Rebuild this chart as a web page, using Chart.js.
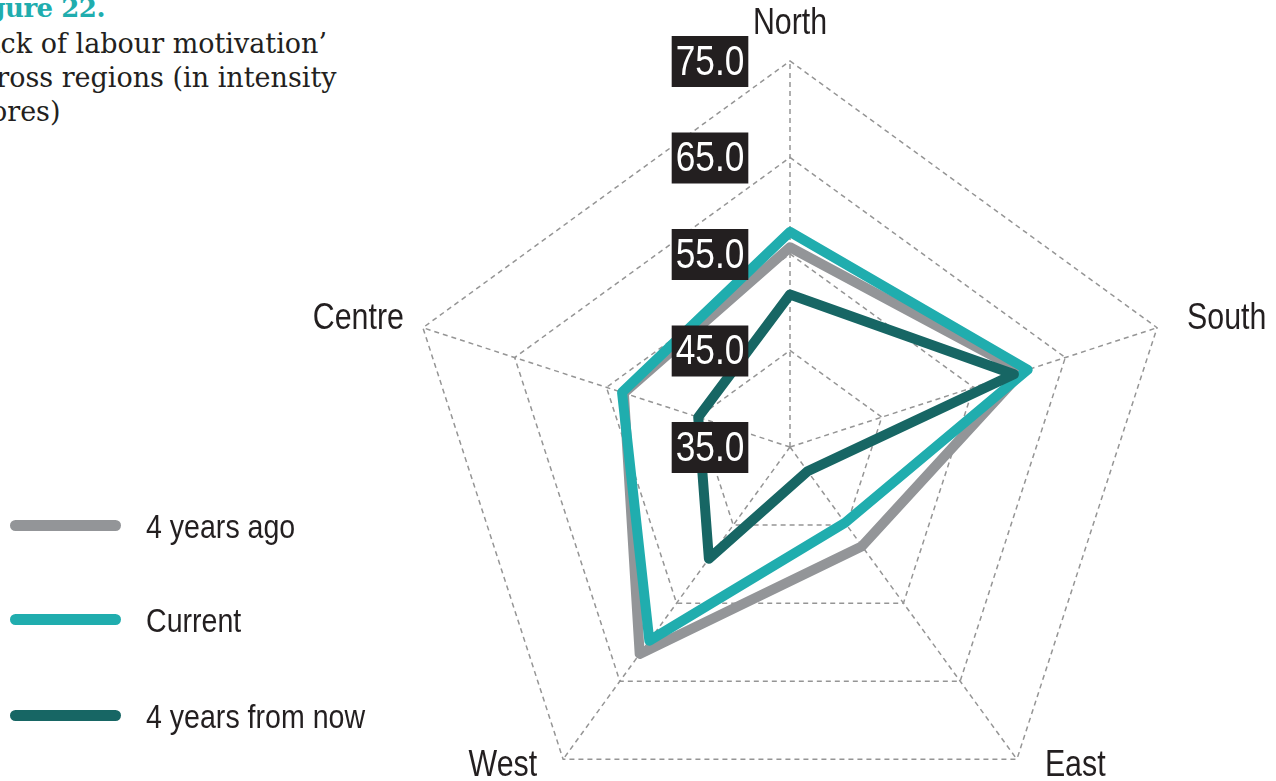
<html>

<head>
  <title>Lack of labour motivation across regions</title>
  <script src="https://cdn.jsdelivr.net/npm/chart.js@4.4.0/dist/chart.umd.min.js"></script>
  <style>
    body { margin: 0; width: 1276px; height: 781px; overflow: hidden; background: #fff; position: relative; }
    .head { position: absolute; white-space: nowrap; font-family: 'DejaVu Serif'; color: #231f20; }
    .head.fig { color: #20adae; font-weight: bold; font-size: 26px; line-height: 30px; top: -7px; left: -40px; letter-spacing: -0.5px; }
    .head.sub { font-size: 27px; line-height: 34px; }
    #wrap { position: absolute; left: 0; top: 0; width: 1276px; height: 900px; }
    #legend .row { position: absolute; left: 0; height: 40px; }
    #legend .swatch { position: absolute; left: 10px; top: 14px; width: 111px; height: 11px; border-radius: 6px; }
    #legend .name { position: absolute; left: 146px; top: 0; line-height: 40px; font-family: 'Liberation Sans'; font-size: 34px; color: #231f20; white-space: nowrap; transform: scaleX(0.84); transform-origin: left center; }
  </style>
</head>

<body>
  <div class="head fig">Figure 22.</div>
  <div class="head sub" style="top: 27px; left: -42px;">‘Lack of labour motivation’</div>
  <div class="head sub" style="top: 61px; left: -35px;">across regions (in intensity</div>
  <div class="head sub" style="top: 95px; left: -38px;">scores)</div>

  <div id="wrap"><canvas id="radarChart"></canvas></div>
  <div id="legend"></div>

  <script>
    // regions clockwise from the top
    const regions = ['North', 'South', 'East', 'West', 'Centre'];
    const tickValues = [35, 45, 55, 65, 75];

    const seriesNames = ['4 years ago', 'Current', '4 years from now'];
    const seriesColors = ['#939598', '#20adae', '#176664'];
    const yearsAgo = [55.7, 60.3, 47.7, 61.5, 53.1];
    const current = [57.3, 60.9, 44.7, 59.8, 53.3];
    const yearsFromNow = [50.8, 59.4, 38.1, 49.3, 45.0];
    const seriesValues = [yearsAgo, current, yearsFromNow];

    // narrow look: Liberation Sans squeezed horizontally
    const SQUEEZE = 0.82;

    // where each region name sits relative to its outer vertex
    const nameSpots = [
      { dx: 0, dy: -37, align: 'center' },
      { dx: 30, dy: -9, align: 'left' },
      { dx: 28, dy: 7, align: 'left' },
      { dx: -26, dy: 7, align: 'right' },
      { dx: -19, dy: -9, align: 'right' },
    ];

    function narrowText(ctx, text, x, y) {
      ctx.save();
      ctx.translate(x, y);
      ctx.scale(SQUEEZE, 1);
      ctx.fillText(text, 0, 0);
      ctx.restore();
    }

    // black value boxes on the north axis + region names
    const scaleText = {
      id: 'scaleText',
      afterDatasetsDraw(chart) {
        const r = chart.scales.r;
        const ctx = chart.ctx;
        ctx.save();
        ctx.font = '43px "Liberation Sans"';
        ctx.textAlign = 'center';
        ctx.textBaseline = 'middle';
        tickValues.forEach(v => {
          const y = r.yCenter - r.getDistanceFromCenterForValue(v);
          const x = r.xCenter - 80;
          const label = v.toFixed(1);
          const w = ctx.measureText(label).width * SQUEEZE;
          ctx.fillStyle = '#231f20';
          ctx.fillRect(x - w / 2 - 4, y - 25, w + 8, 51);
          ctx.fillStyle = '#ffffff';
          narrowText(ctx, label, x, y + 2);
        });

        ctx.font = '37px "Liberation Sans"';
        ctx.fillStyle = '#231f20';
        regions.forEach((name, i) => {
          const p = r.getPointPosition(i, r.drawingArea);
          const s = nameSpots[i];
          ctx.textAlign = s.align;
          narrowText(ctx, name, p.x + s.dx, p.y + s.dy);
        });
        ctx.restore();
      }
    };

    const datasets = seriesValues.map((vals, i) => ({
      label: seriesNames[i],
      data: vals,
      borderColor: seriesColors[i],
      borderWidth: 10,
      borderJoinStyle: 'round',
      fill: false,
      pointRadius: 0,
      order: 3 - i,
    }));

    new Chart(document.getElementById('radarChart').getContext('2d'), {
      type: 'radar',
      data: { labels: regions, datasets: datasets },
      options: {
        responsive: true,
        maintainAspectRatio: false,
        animation: false,
        layout: { padding: { left: 404, right: 100, top: 61, bottom: 67 } },
        plugins: { legend: { display: false }, tooltip: { enabled: false } },
        scales: {
          r: {
            min: 35,
            max: 75,
            ticks: { display: false, stepSize: 10 },
            grid: { color: '#959595', lineWidth: 1.5 },
            border: { dash: [5, 4] },
            angleLines: { color: '#959595', lineWidth: 1.5, borderDash: [5, 4] },
            pointLabels: { display: false },
          }
        }
      },
      plugins: [scaleText]
    });

    // legend
    const legend = document.getElementById('legend');
    const rowCenters = [526, 620, 716];
    seriesNames.forEach((name, i) => {
      const row = document.createElement('div');
      row.className = 'row';
      row.style.top = (rowCenters[i] - 20) + 'px';
      row.innerHTML = `<div class="swatch" style="background:${seriesColors[i]}"></div><div class="name">${name}</div>`;
      legend.appendChild(row);
    });
  </script>
</body>

</html>
